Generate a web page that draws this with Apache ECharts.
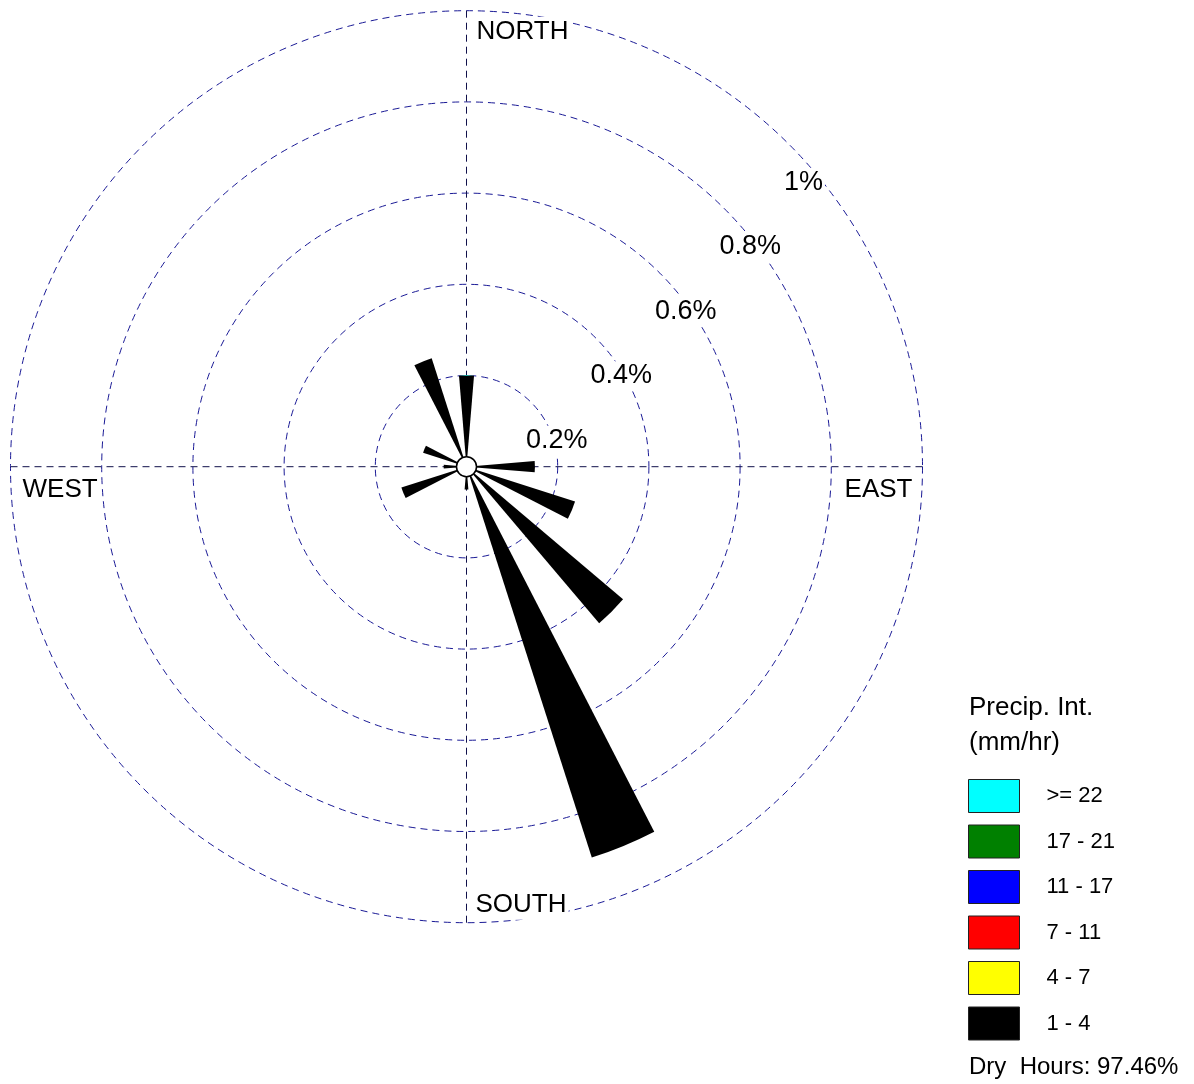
<!DOCTYPE html>
<html>
<head>
<meta charset="utf-8">
<style>
  html, body { margin: 0; padding: 0; background: #ffffff; }
  #chart { width: 1194px; height: 1084px; }
</style>
<script src="https://cdn.jsdelivr.net/npm/echarts@6/dist/echarts.min.js"></script>
</head>
<body>
<div id="chart"></div>
<script>
// Sixteen compass sectors, clockwise from north
const directions = ['N', 'NNE', 'NE', 'ENE', 'E', 'ESE', 'SE', 'SSE',
                    'S', 'SSW', 'SW', 'WSW', 'W', 'WNW', 'NW', 'NNW'];

// Frequency (% of all hours) per precipitation-intensity class
const class1to4   = [0.20, 0, 0, 0, 0.15, 0.25, 0.45, 0.90, 0.05, 0, 0, 0.15, 0.05, 0.10, 0, 0.25];
const class4to7   = [0, 0, 0, 0, 0, 0, 0, 0, 0, 0, 0, 0, 0, 0, 0, 0];
const class7to11  = [0, 0, 0, 0, 0, 0, 0, 0, 0, 0, 0, 0, 0, 0, 0, 0];
const class11to17 = [0, 0, 0, 0, 0, 0, 0, 0, 0, 0, 0, 0, 0, 0, 0, 0];
const class17to21 = [0, 0, 0, 0, 0, 0, 0, 0, 0, 0, 0, 0, 0, 0, 0, 0];
const class22up   = [0, 0, 0, 0, 0, 0, 0, 0, 0, 0, 0, 0, 0, 0, 0, 0];

const classNames  = ['1 - 4', '4 - 7', '7 - 11', '11 - 17', '17 - 21', '>= 22'];
const classColors = ['#000000', '#ffff00', '#ff0000', '#0000ff', '#008000', '#00ffff'];
const classData   = [class1to4, class4to7, class7to11, class11to17, class17to21, class22up];

// Ring scale
const ringValues = [0.2, 0.4, 0.6, 0.8, 1.0];
const ringLabels = ['0.2%', '0.4%', '0.6%', '0.8%', '1%'];
const compassLabels = ['NORTH', 'EAST', 'SOUTH', 'WEST'];
const dryHours = 'Dry  Hours: 97.46%';

// Layout of the rose
const CX = 466.5, CY = 466.7, R = 456, RMAX = 1.0, CALM_R = 10;
const FONT = '"Liberation Sans", Arial, Helvetica, sans-serif';
const GRID_COLOR = '#1a1a96';

const chart = echarts.init(document.getElementById('chart'), null, { renderer: 'canvas' });

const barSeries = classNames.map((name, i) => ({
  type: 'bar',
  name: name,
  coordinateSystem: 'polar',
  polarIndex: 0,
  stack: 'rose',
  barWidth: '42%',
  data: classData[i],
  itemStyle: { color: classColors[i] },
  silent: true,
  z: 3
}));

// Ring value labels run along the north-east diagonal
const c45 = Math.SQRT1_2;
const ringText = ringValues.map((v, i) => ({
  type: 'text',
  z: 20,
  style: {
    text: ringLabels[i],
    x: CX + R * (v / RMAX) * c45 - 7,
    y: CY - R * (v / RMAX) * c45 + 38,
    align: 'left',
    verticalAlign: 'middle',
    font: '27px ' + FONT,
    fill: '#000',
    backgroundColor: '#fff',
    padding: [1, 2, 1, 2]
  }
}));

const compassText = [
  { text: compassLabels[0], x: CX + 8,      y: CY - R + 21, align: 'left'  },
  { text: compassLabels[1], x: CX + R - 8,  y: CY + 23,     align: 'right' },
  { text: compassLabels[2], x: CX + 7,      y: CY + R - 18, align: 'left'  },
  { text: compassLabels[3], x: CX - R + 10, y: CY + 23,     align: 'left'  }
].map(t => ({
  type: 'text',
  z: 20,
  style: {
    text: t.text, x: t.x, y: t.y, align: t.align, verticalAlign: 'middle',
    font: '26px ' + FONT, fill: '#000',
    backgroundColor: '#fff', padding: [2, 2, 2, 2]
  }
}));

const option = {
  backgroundColor: '#ffffff',
  animation: false,
  title: {
    text: 'Precip. Int.\n(mm/hr)',
    left: 969,
    top: 690,
    padding: 0,
    textStyle: { fontFamily: FONT, fontSize: 26, fontWeight: 'normal', color: '#000', lineHeight: 35 }
  },
  legend: {
    orient: 'vertical',
    left: 968,
    top: 779,
    padding: 0,
    itemWidth: 51,
    itemHeight: 33,
    itemGap: 11.5,
    icon: 'rect',
    selectedMode: false,
    data: classNames.slice().reverse(),
    itemStyle: { borderColor: '#222', borderWidth: 1 },
    textStyle: { fontFamily: FONT, fontSize: 22, color: '#000', padding: [0, 0, 0, 22] }
  },
  polar: [
    { center: [CX, CY], radius: R },
    { center: [CX, CY], radius: R }
  ],
  angleAxis: [
    {
      polarIndex: 0,
      type: 'category',
      data: directions,
      startAngle: 90 + 360 / directions.length / 2,
      clockwise: true,
      axisLine: { show: false },
      axisTick: { show: false },
      axisLabel: { show: false },
      splitLine: { show: false }
    },
    {
      polarIndex: 1,
      type: 'value',
      min: 0,
      max: 360,
      interval: 90,
      startAngle: 90,
      clockwise: true,
      axisLine: { show: false },
      axisTick: { show: false },
      axisLabel: { show: false },
      splitLine: { show: true, lineStyle: { color: '#10104a', width: 1, type: [7, 5] } }
    }
  ],
  radiusAxis: [
    {
      polarIndex: 0,
      type: 'value',
      min: 0,
      max: RMAX,
      show: false,
      splitLine: { show: false }
    },
    {
      polarIndex: 1,
      type: 'value',
      min: 0,
      max: RMAX,
      interval: 0.2,
      axisLine: { show: false },
      axisTick: { show: false },
      axisLabel: { show: false },
      splitLine: { show: true, lineStyle: { color: GRID_COLOR, width: 1, type: [7, 5] } }
    }
  ],
  series: barSeries,
  graphic: ringText.concat(compassText, [
    {
      // calm circle at the hub
      type: 'circle',
      z: 30,
      shape: { cx: CX, cy: CY, r: CALM_R },
      style: { fill: '#ffffff', stroke: '#000000', lineWidth: 1.5 },
      silent: true
    },
    {
      type: 'text',
      z: 20,
      style: {
        text: dryHours, x: 969, y: 1067, align: 'left', verticalAlign: 'middle',
        font: '24px ' + FONT, fill: '#000'
      }
    }
  ])
};

chart.setOption(option);
</script>
</body>
</html>
